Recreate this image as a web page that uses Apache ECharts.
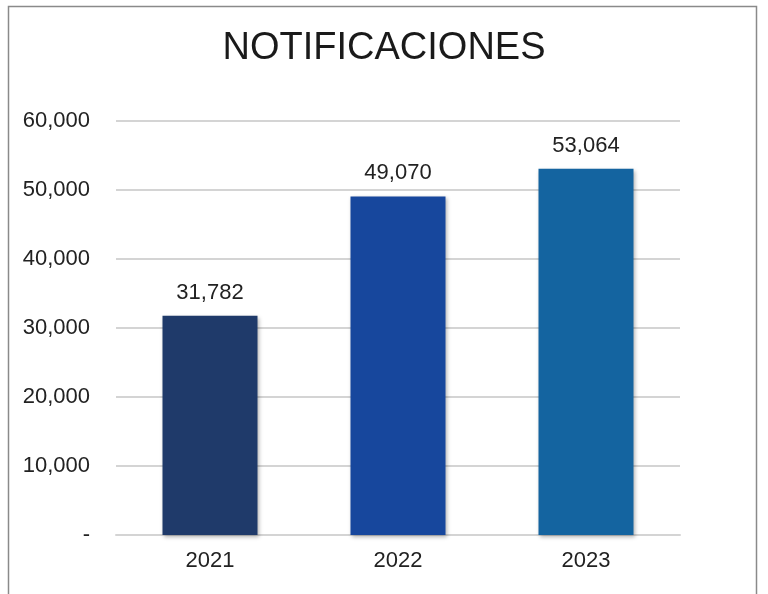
<!DOCTYPE html>
<html>
<head>
<meta charset="utf-8">
<script src="https://cdn.jsdelivr.net/npm/echarts@6/dist/echarts.min.js"></script>
<style>
  html, body { margin: 0; padding: 0; background: #fff; }
  #chart { width: 768px; height: 594px; }
</style>
</head>
<body>
<div id="chart"></div>
<script>
const years = ['2021', '2022', '2023']
const notificaciones = [31782, 49070, 53064]
const barColors = ['#1f3a6a', '#17479d', '#1464a0']

const fmt = v => (v === 0 ? '-' : v.toLocaleString('en-US'))

const chart = echarts.init(document.getElementById('chart'))

chart.setOption({
  backgroundColor: '#fff',
  animation: false,
  textStyle: { fontFamily: 'Liberation Sans, Arial, sans-serif' },
  graphic: [
    {
      type: 'rect',
      shape: { x: 8.5, y: 6.5, width: 748, height: 620 },
      style: { fill: 'none', stroke: '#8a8a8a', lineWidth: 1.5 },
      silent: true,
    },
  ],
  title: {
    text: 'NOTIFICACIONES',
    left: 'center',
    top: 25,
    textStyle: { fontSize: 38, fontWeight: 'normal', color: '#1a1a1a' },
  },
  grid: { left: 116, right: 88, top: 121, bottom: 59 },
  xAxis: {
    type: 'category',
    data: years,
    axisTick: { show: false },
    axisLine: { lineStyle: { color: '#d4d4d4', width: 2 } },
    axisLabel: { fontSize: 22, color: '#222', margin: 15 },
  },
  yAxis: {
    type: 'value',
    min: 0,
    max: 60000,
    interval: 10000,
    axisLine: { show: false },
    axisTick: { show: false },
    splitLine: { lineStyle: { color: '#d4d4d4', width: 2 } },
    axisLabel: { fontSize: 22, color: '#222', margin: 26, formatter: fmt },
  },
  series: [
    {
      type: 'bar',
      barWidth: 95,
      data: notificaciones.map((v, i) => ({ value: v, itemStyle: { color: barColors[i] } })),
      itemStyle: {
        shadowBlur: 4,
        shadowOffsetX: 1,
        shadowOffsetY: 2,
        shadowColor: 'rgba(0,0,0,0.3)',
      },
      label: {
        show: true,
        position: 'top',
        distance: 12,
        fontSize: 22,
        color: '#222',
        formatter: p => fmt(p.value),
      },
    },
  ],
})
</script>
</body>
</html>
